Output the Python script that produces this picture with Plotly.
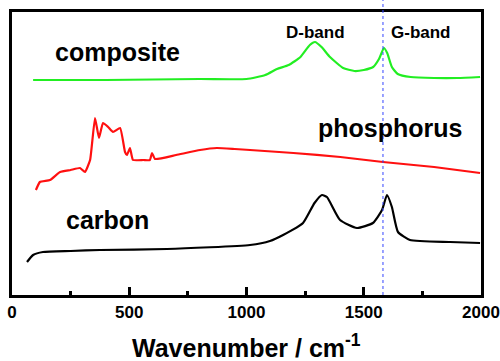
import plotly.graph_objects as go

# Wavenumber (cm^-1) and intensity (arbitrary, offset)
comp_x = [90, 400, 800, 1000, 1080, 1130, 1180, 1230, 1270, 1292, 1320, 1356, 1412,
          1460, 1500, 1540, 1565, 1586, 1600, 1620, 1645, 1700, 1800, 1900, 1996]
comp_y = [215, 215, 216, 216, 220, 226, 230, 238, 250, 253, 248, 238, 227,
          224, 225, 228, 236, 247, 242, 228, 221, 218, 217, 217, 218]

phos_x = [102, 119, 162, 205, 250, 290, 311, 333, 354, 371, 388, 410, 431, 461, 482,
          490, 503, 516, 560, 588, 597, 610, 700, 802, 874, 950, 1015, 1200, 1400,
          1582, 1800, 1996]
phos_y = [105, 113, 115, 123, 125, 127, 123, 135, 177, 157, 172, 168, 163, 167, 143,
          140, 147, 135, 135, 135, 142, 136, 140, 145, 147, 146, 145, 142, 138,
          133, 128, 122]

carb_x = [64, 90, 132, 250, 375, 661, 1015, 1100, 1156, 1241, 1290, 1322, 1343, 1399,
          1471, 1539, 1578, 1599, 1620, 1646, 1697, 1868, 1996]
carb_y = [33, 40, 43, 44, 45, 46, 50, 54, 60, 72, 92, 100, 98, 75,
          67, 72, 85, 100, 88, 63, 55, 53, 52]

g_band_pos = 1582
x_ticks = [0, 500, 1000, 1500, 2000]

FONT = "Arial, Liberation Sans, sans-serif"

fig = go.Figure()
fig.add_trace(go.Scatter(x=comp_x, y=comp_y, mode="lines",
                         line=dict(color="#22ee22", width=2.2, shape="spline", smoothing=0.5)))
fig.add_trace(go.Scatter(x=phos_x, y=phos_y, mode="lines",
                         line=dict(color="#ff1010", width=2.2, shape="spline", smoothing=0.4)))
fig.add_trace(go.Scatter(x=carb_x, y=carb_y, mode="lines",
                         line=dict(color="black", width=2.2, shape="spline", smoothing=0.5)))

fig.add_shape(type="line", xref="x", yref="paper", x0=g_band_pos, x1=g_band_pos,
              y0=0, y1=1.045, line=dict(color="#3344ff", width=1, dash="dot"))

def label(text, x, y, size):
    fig.add_annotation(x=x, y=y, xref="x", yref="y", text="<b>%s</b>" % text,
                       showarrow=False, font=dict(family=FONT, size=size, color="black"))

label("composite", 452, 243, 25)
label("phosphorus", 1612, 167, 25)
label("carbon", 409, 75, 25)
label("D-band", 1296, 263, 17)
label("G-band", 1744, 263, 17)

fig.add_annotation(x=0.5, y=-0.245, xref="paper", yref="paper",
                   text="<b>Wavenumber / cm<sup>-1</sup></b>", showarrow=False,
                   font=dict(family=FONT, size=25, color="black"))

fig.update_layout(
    width=500, height=361,
    margin=dict(l=12, r=19, t=12, b=66),
    paper_bgcolor="white", plot_bgcolor="white",
    showlegend=False,
)
fig.update_xaxes(range=[0, 2000], tickvals=x_ticks, ticktext=["<b>%d</b>" % v for v in x_ticks],
                 automargin=False,
                 ticks="inside", ticklen=8, tickwidth=2.5, tickcolor="black",
                 minor=dict(dtick=250, tick0=0, ticks="inside", ticklen=4, tickwidth=2.5, tickcolor="black"),
                 showline=True, linewidth=3, linecolor="black", mirror=True,
                 showgrid=False, zeroline=False,
                 tickfont=dict(family=FONT, size=17, color="black"))
fig.update_yaxes(range=[0, 283], showticklabels=False, ticks="", automargin=False,
                 showline=True, linewidth=3, linecolor="black", mirror=True,
                 showgrid=False, zeroline=False)

fig.write_html("out.html")
